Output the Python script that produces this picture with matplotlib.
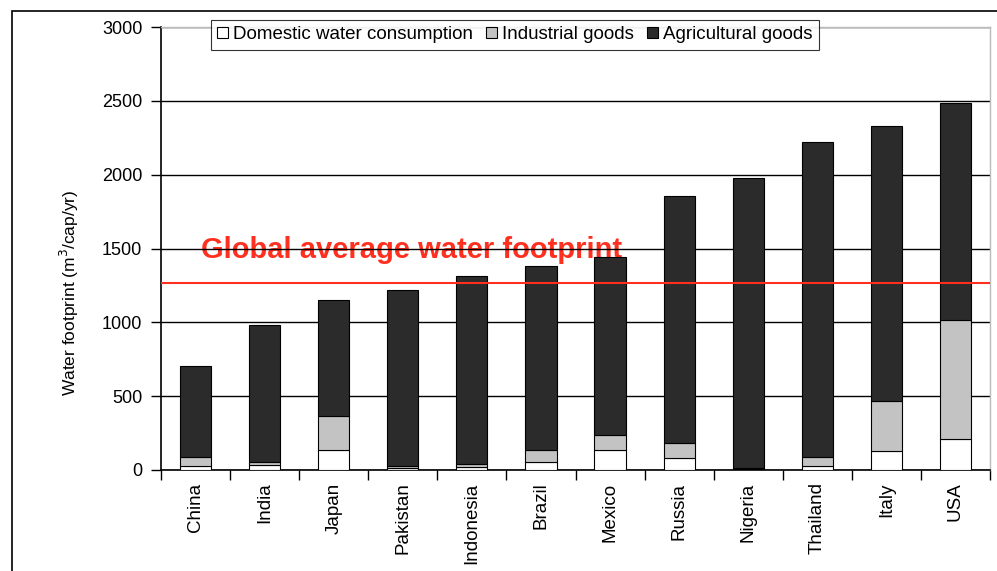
import matplotlib
matplotlib.use("Agg")
import matplotlib.pyplot as plt
from matplotlib.patches import Rectangle
import numpy as np

countries = ["China", "India", "Japan", "Pakistan", "Indonesia", "Brazil",
             "Mexico", "Russia", "Nigeria", "Thailand", "Italy", "USA"]
domestic = [27, 36, 134, 15, 22, 57, 135, 83, 8, 28, 128, 208]
industrial = [64, 19, 230, 12, 19, 77, 100, 100, 5, 57, 341, 810]
totals = [702, 980, 1153, 1218, 1317, 1381, 1441, 1858, 1979, 2223, 2332, 2483]
agricultural = [t - d - i for t, d, i in zip(totals, domestic, industrial)]
global_average = 1267

plt.rcParams['font.family'] = ['Liberation Sans', 'DejaVu Sans']

fig = plt.figure(figsize=(9.97, 5.71), dpi=100)
ax = fig.add_axes([161 / 997, 101 / 571, 829 / 997, 443 / 571])

x = np.arange(len(countries))
w = 0.45
ax.bar(x, domestic, w, color='white', edgecolor='black', linewidth=0.8,
       label='Domestic water consumption', zorder=3)
ax.bar(x, industrial, w, bottom=domestic, color='#c3c3c3', edgecolor='black',
       linewidth=0.8, label='Industrial goods', zorder=3)
bottom2 = [d + i for d, i in zip(domestic, industrial)]
ax.bar(x, agricultural, w, bottom=bottom2, color='#2b2b2b', edgecolor='black',
       linewidth=0.8, label='Agricultural goods', zorder=3)

ax.set_xlim(-0.5, len(countries) - 0.5)
ax.set_ylim(0, 3000)
ax.set_yticks(np.arange(0, 3001, 500))
ax.yaxis.grid(True, color='black', linewidth=1.0)
ax.set_axisbelow(True)

ax.set_xticks(x)
ax.set_xticklabels(countries, rotation=90, fontsize=13.5)
ax.set_xticks(np.arange(-0.5, len(countries)), minor=True)
ax.tick_params(axis='x', which='major', length=0, pad=9)
ax.tick_params(axis='x', which='minor', length=7, width=1, direction='out')
ax.tick_params(axis='y', length=7, width=1, labelsize=13, pad=6.5)

for s in ['top', 'right']:
    ax.spines[s].set_color('#bbbbbb')
    ax.spines[s].set_linewidth(1.0)
for s in ['left', 'bottom']:
    ax.spines[s].set_color('black')
    ax.spines[s].set_linewidth(1.2)

ax.set_ylabel('Water footprint (m$^3$/cap/yr)', fontsize=12.5)
ax.yaxis.set_label_coords(-0.0965, 0.40)

ax.axhline(global_average, color='#ff3020', linewidth=1.5, zorder=4)
ax.text(0.079, 1436, 'Global average water footprint',
        color='#ff3020', fontsize=21, fontweight='bold', zorder=0.4,
        va='baseline', ha='left')

leg = ax.legend(loc='upper center', bbox_to_anchor=(0.427, 1.016), ncol=3,
                fontsize=13.5, frameon=True, fancybox=False, handlelength=0.55,
                handleheight=0.55, handletextpad=0.3, columnspacing=0.7,
                borderpad=0.35, borderaxespad=0)
leg.get_frame().set_edgecolor('black')
leg.get_frame().set_linewidth(0.8)
leg.set_zorder(6)

fig.patches.append(Rectangle((12 / 997, -0.1), 2.0, (571 - 10.5) / 571 + 0.1,
                             transform=fig.transFigure, fill=False,
                             edgecolor='black', linewidth=1.2))

fig.savefig('out.png', dpi=100)
